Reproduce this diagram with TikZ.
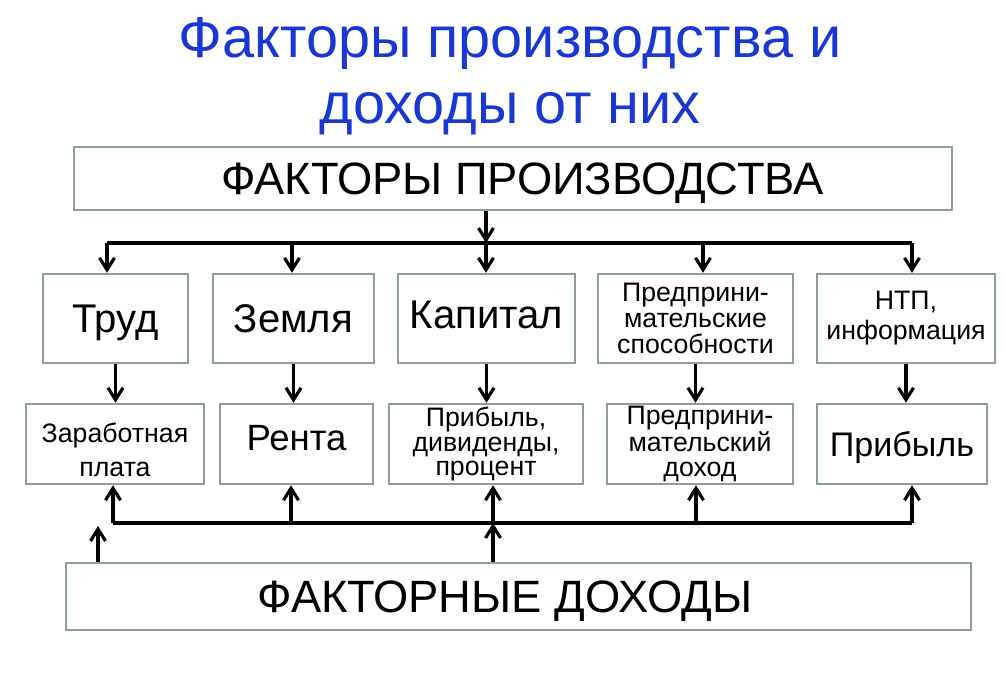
\documentclass[tikz,border=0pt]{standalone}
\usepackage{fontspec}
\setmainfont{Liberation Sans}
\usepackage{tikz}
\usetikzlibrary{arrows.meta,positioning}
\definecolor{titleblue}{RGB}{25,55,210}
\definecolor{boxgray}{RGB}{140,158,158}

\begin{document}
\begin{tikzpicture}[x=0.02cm,y=-0.02cm,
  >={Straight Barb[length=2.4mm,width=3mm]},
  box/.style={draw=boxgray,line width=1.4pt,inner sep=0pt},
  txthuge/.style={font=\fontsize{25.8}{30}\selectfont,text depth=0pt},
  txtbig/.style={font=\fontsize{#1}{24}\selectfont,text depth=0pt},
  txtbig/.default=22.8pt,
  txtsmall/.style={font=\fontsize{15.2}{#1}\selectfont,align=center},
  txtsmall/.default=14.2pt,
  arr/.style={->,line width=1.8pt},
  bus/.style={line width=2.6pt}]
\useasboundingbox (0,0) rectangle (1005,676);

% title
  \node[anchor=base,text=titleblue,font=\fontsize{32.8}{36}\selectfont] (t1) at (510,57) {Факторы производства и};
  \node[anchor=base,text=titleblue,font=\fontsize{32.8}{36}\selectfont] (t2) at (510,123) {доходы от них};

% top and bottom boxes
  \node[box,txthuge,minimum width=17.56cm,minimum height=1.26cm] (fp) at (513,178.5) {\hspace*{0.38cm}ФАКТОРЫ ПРОИЗВОДСТВА};
  \node[box,txthuge,minimum width=18.1cm,minimum height=1.34cm] (fd) at (518.5,596.5) {ФАКТОРНЫЕ ДОХОДЫ\hspace*{0.54cm}};

% factors
  \node[box,txtbig,minimum width=2.9cm,minimum height=1.78cm]  (trud)    at (115.5,318.5) {Труд};
  \node[box,txtbig,minimum width=3.22cm,minimum height=1.78cm] (zemlya)  at (293.5,318.5) {Земля};
  \node[box,txtbig,text depth=0.14cm,minimum width=3.54cm,minimum height=1.78cm] (kapital) at (486.5,318.5) {Капитал};
  \node[box,txtsmall=14.6pt,minimum width=3.9cm,minimum height=1.78cm] (predpr) at (695.5,318.5) {Предприни-\\мательские\\способности};
  \node[box,txtsmall=17pt,minimum width=3.56cm,minimum height=1.78cm] (ntp) at (906,318.5) {НТП,\\информация};

% incomes
  \node[box,txtsmall=19.3pt,minimum width=3.56cm,minimum height=1.6cm] (zarplata) at (115,444) {\rule{0pt}{0.64cm}Заработная\\плата};
  \node[box,txtbig=20.8pt,text depth=0.26cm,minimum width=3.06cm,minimum height=1.6cm] (renta) at (296.5,444) {Рента};
  \node[box,txtsmall,minimum width=3.88cm,minimum height=1.6cm] (pribyl) at (486,444) {Прибыль,\\дивиденды,\\процент};
  \node[box,txtsmall,minimum width=3.72cm,minimum height=1.6cm] (dohod) at (700,444) {Предприни-\\мательский\\доход};
  \node[box,txtbig=19.4pt,minimum width=3.4cm,minimum height=1.6cm] (pribyl2) at (902,444) {Прибыль};

% upper bus
  \coordinate (ta) at (107,243);
  \coordinate (tb) at (292,243);
  \coordinate (tc) at (486,243);
  \coordinate (td) at (703,243);
  \coordinate (te) at (912,243);
  \draw[bus] (ta) -- (te);
  \draw[arr] (fp.south -| tc) -- (tc);
  \foreach \c/\n in {ta/trud,tb/zemlya,tc/kapital,td/predpr,te/ntp}
    \draw[arr] (\c) -- (\c |- \n.north);

% factor -> income
  \foreach \a/\b in {trud/zarplata,zemlya/renta,kapital/pribyl,predpr/dohod,ntp/pribyl2}
    \draw[arr] (\a.south) -- (\a.south |- \b.north);

% lower bus
  \coordinate (ba) at (113,523);
  \coordinate (bb) at (291,523);
  \coordinate (bc) at (493,523);
  \coordinate (bd) at (696,523);
  \coordinate (be) at (912,523);
  \coordinate (bl) at (98,526);
  \draw[bus] (ba) -- (be);
  \foreach \c/\n in {ba/zarplata,bb/renta,bc/pribyl,bd/dohod,be/pribyl2}
    \draw[arr] (\c) -- (\c |- \n.south);
  \draw[arr] (fd.north -| bl) -- (bl);
  \draw[arr] (fd.north -| bc) -- (bc);
\end{tikzpicture}
\end{document}
